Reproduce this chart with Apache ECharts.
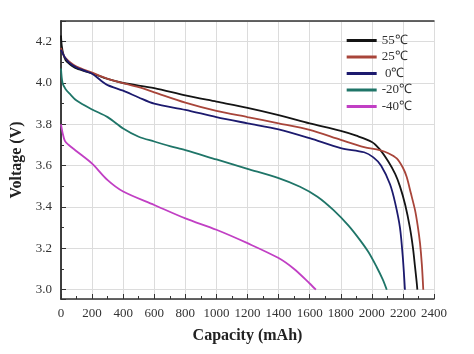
<!DOCTYPE html>
<html>
<head>
  <meta charset="UTF-8">
  <title>Discharge curves</title>
  <script src="https://cdn.jsdelivr.net/npm/echarts@6/dist/echarts.min.js"></script>
  <style>
    html, body { margin: 0; padding: 0; background: #fff; }
    #chart { width: 474px; height: 354px; }
  </style>
</head>
<body>
  <div id="chart"></div>
  <script>
    // capacity (mAh) / voltage (V)
    const names = ['55℃', '25℃', ' 0℃', '-20℃', '-40℃'];
    const colors = ['#141414', '#a8453a', '#1c1a6e', '#1f7568', '#c13fc4'];

    const cap55 = [0, 5, 15, 30, 50, 100, 200, 300, 400, 600, 800, 1000, 1200, 1400, 1600, 1800, 1900, 2000, 2050, 2106, 2150, 2181, 2215, 2245, 2265, 2278, 2288, 2293];
    const volt55 = [4.23, 4.18, 4.14, 4.11, 4.095, 4.07, 4.047, 4.02, 4.0, 3.975, 3.94, 3.91, 3.88, 3.845, 3.805, 3.768, 3.745, 3.715, 3.68, 3.62, 3.56, 3.5, 3.41, 3.3, 3.2, 3.11, 3.04, 3.0];

    const cap25 = [0, 20, 60, 100, 200, 300, 400, 500, 600, 800, 1000, 1200, 1400, 1600, 1800, 1950, 2050, 2106, 2160, 2200, 2224, 2250, 2278, 2295, 2310, 2322, 2331];
    const volt25 = [4.17, 4.13, 4.1, 4.08, 4.05, 4.02, 4.0, 3.98, 3.955, 3.905, 3.865, 3.835, 3.805, 3.773, 3.725, 3.69, 3.675, 3.66, 3.635, 3.59, 3.546, 3.47, 3.385, 3.31, 3.225, 3.12, 3.0];

    const cap0 = [0, 20, 50, 100, 150, 200, 260, 300, 400, 500, 600, 800, 1000, 1200, 1400, 1600, 1800, 1950, 2010, 2060, 2117, 2150, 2181, 2200, 2213];
    const volt0 = [4.16, 4.13, 4.1, 4.075, 4.06, 4.045, 4.01, 3.99, 3.963, 3.93, 3.9, 3.87, 3.835, 3.805, 3.776, 3.733, 3.685, 3.665, 3.64, 3.6, 3.51, 3.42, 3.3, 3.15, 3.0];

    const capM20 = [0, 10, 30, 60, 100, 200, 300, 400, 500, 600, 700, 800, 1000, 1200, 1400, 1538, 1650, 1752, 1850, 1924, 1980, 2031, 2070, 2096];
    const voltM20 = [4.07, 4.0, 3.97, 3.945, 3.915, 3.872, 3.835, 3.78, 3.74, 3.717, 3.695, 3.675, 3.63, 3.585, 3.54, 3.498, 3.45, 3.386, 3.31, 3.24, 3.18, 3.11, 3.05, 3.0];

    const capM40 = [0, 10, 25, 50, 100, 200, 300, 400, 600, 800, 1000, 1200, 1400, 1500, 1600, 1640];
    const voltM40 = [3.8, 3.76, 3.72, 3.7, 3.67, 3.61, 3.53, 3.475, 3.41, 3.345, 3.29, 3.225, 3.153, 3.1, 3.03, 3.0];

    const caps = [cap55, cap25, cap0, capM20, capM40];
    const volts = [volt55, volt25, volt0, voltM20, voltM40];

    const serif = 'Liberation Serif';

    const chart = echarts.init(document.getElementById('chart'));

    const series = names.map((n, i) => ({
      name: n,
      type: 'line',
      smooth: 0.3,
      showSymbol: false,
      data: caps[i].map((c, j) => [c, volts[i][j]]),
      lineStyle: { color: colors[i], width: 1.8 },
      itemStyle: { color: colors[i] }
    }));

    const option = {
      animation: false,
      backgroundColor: '#fff',
      grid: { left: 61, right: 40, top: 21, bottom: 55 },
      legend: {
        orient: 'vertical',
        right: 57,
        top: 29,
        itemWidth: 30,
        itemHeight: 3,
        itemGap: 3.5,
        icon: 'rect',
        data: names,
        textStyle: { fontFamily: serif, fontSize: 13, color: '#333', width: 26, align: 'right' }
      },
      xAxis: [{
        type: 'value',
        min: 0,
        max: 2400,
        interval: 200,
        name: 'Capacity (mAh)',
        nameLocation: 'middle',
        nameGap: 29,
        nameTextStyle: { fontFamily: serif, fontSize: 16, fontWeight: 'bold', color: '#222' },
        axisLine: { show: true, lineStyle: { color: '#333', width: 1.5 } },
        axisTick: { show: true, inside: true, length: 5, lineStyle: { color: '#333' } },
        minorTick: { show: true, splitNumber: 2, length: 3, lineStyle: { color: '#333' } },
        axisLabel: { fontFamily: serif, fontSize: 13, color: '#333', margin: 8, formatter: v => String(v) },
        splitLine: { show: true, lineStyle: { color: '#dcdcdc', width: 1 } }
      }, {
        type: 'value',
        position: 'top',
        min: 0,
        max: 2400,
        axisLine: { show: true, lineStyle: { color: '#333', width: 1.5 } },
        axisTick: { show: false },
        axisLabel: { show: false },
        splitLine: { show: false }
      }],
      yAxis: [{
        type: 'value',
        min: 2.955,
        max: 4.3,
        splitNumber: 7,
        name: 'Voltage (V)',
        nameLocation: 'middle',
        nameGap: 36,
        nameTextStyle: { fontFamily: serif, fontSize: 16, fontWeight: 'bold', color: '#222' },
        axisLine: { show: true, lineStyle: { color: '#333', width: 1.5 } },
        axisTick: { show: true, inside: true, length: 5, lineStyle: { color: '#333' } },
        minorTick: { show: true, splitNumber: 2, length: 3, lineStyle: { color: '#333' } },
        axisLabel: {
          fontFamily: serif, fontSize: 13, color: '#333', margin: 9,
          showMinLabel: false, showMaxLabel: false,
          formatter: v => v.toFixed(1)
        },
        splitLine: { show: true, lineStyle: { color: '#dcdcdc', width: 1 } }
      }, {
        type: 'value',
        position: 'right',
        min: 2.955,
        max: 4.3,
        axisLine: { show: true, lineStyle: { color: '#333', width: 1.5 } },
        axisTick: { show: false },
        axisLabel: { show: false },
        splitLine: { show: false }
      }],
      series: series
    };

    chart.setOption(option);
  </script>
</body>
</html>
